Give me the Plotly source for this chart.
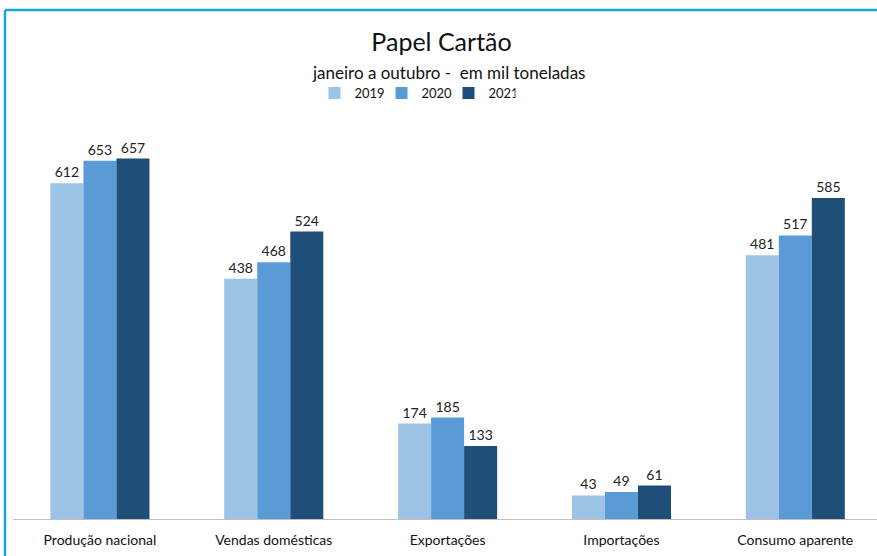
import plotly.graph_objects as go

categories = ["Produção nacional", "Vendas domésticas", "Exportações", "Importações", "Consumo aparente"]
years = ["2019", "2020", "2021"]
v2019 = [612, 438, 174, 43, 481]
v2020 = [653, 468, 185, 49, 517]
v2021 = [657, 524, 133, 61, 585]
colors = ["#9DC3E6", "#5B9BD5", "#1F4E79"]

fig = go.Figure()
for name, vals, c in zip(years, [v2019, v2020, v2021], colors):
    fig.add_trace(go.Bar(
        x=list(range(len(categories))), y=vals, name=name, marker_color=c,
        marker_line_width=0,
        text=[str(v) for v in vals], textposition="outside", cliponaxis=False,
        textfont=dict(size=14, color="#222222", family="Lato"),
    ))

W, H = 877, 556
L, R, T, B = 13, 0, 135, 37
pw, ph = W - L - R, H - T - B
def px(x): return (x - L) / pw
def py(y): return (H - B - y) / ph

fig.update_layout(
    width=W, height=H,
    margin=dict(l=L, r=R, t=T, b=B),
    paper_bgcolor="white", plot_bgcolor="white",
    barmode="group", bargap=0.43, bargroupgap=0,
    font=dict(family="Lato", color="#111111"),
    title=dict(text="Papel Cartão", x=px(448), xanchor="center", y=1 - 42 / H, yanchor="middle",
               font=dict(size=25, color="#111111", family="Lato")),
    annotations=[dict(text="janeiro a outubro -  em mil toneladas", xref="paper", yref="paper",
                      x=px(448), y=py(72), xanchor="center", yanchor="middle", showarrow=False,
                      font=dict(size=17, color="#111111", family="Lato"))],
    legend=dict(orientation="h", x=px(415), y=py(93), xanchor="center", yanchor="middle",
                font=dict(size=13, color="#111111"), itemwidth=30, traceorder="normal",
                entrywidth=22, entrywidthmode="pixels"),
    xaxis=dict(range=[-0.5, 4.47], tickmode="array", tickvals=list(range(len(categories))),
               ticktext=categories, showgrid=False, showline=True, linecolor="#BFBFBF",
               linewidth=1, ticks="", tickfont=dict(size=14, color="#111111"), zeroline=False,
               ticklabelstandoff=8),
    yaxis=dict(range=[0, 700], visible=False),
    shapes=[
        dict(type="line", xref="paper", yref="paper", x0=px(5), x1=px(877), y0=py(10), y1=py(10),
             line=dict(color="#1AA3DC", width=2.5)),
        dict(type="line", xref="paper", yref="paper", x0=px(5), x1=px(5), y0=py(10), y1=py(556),
             line=dict(color="#1AA3DC", width=2.5)),
    ],
)
fig.write_html("out.html")
